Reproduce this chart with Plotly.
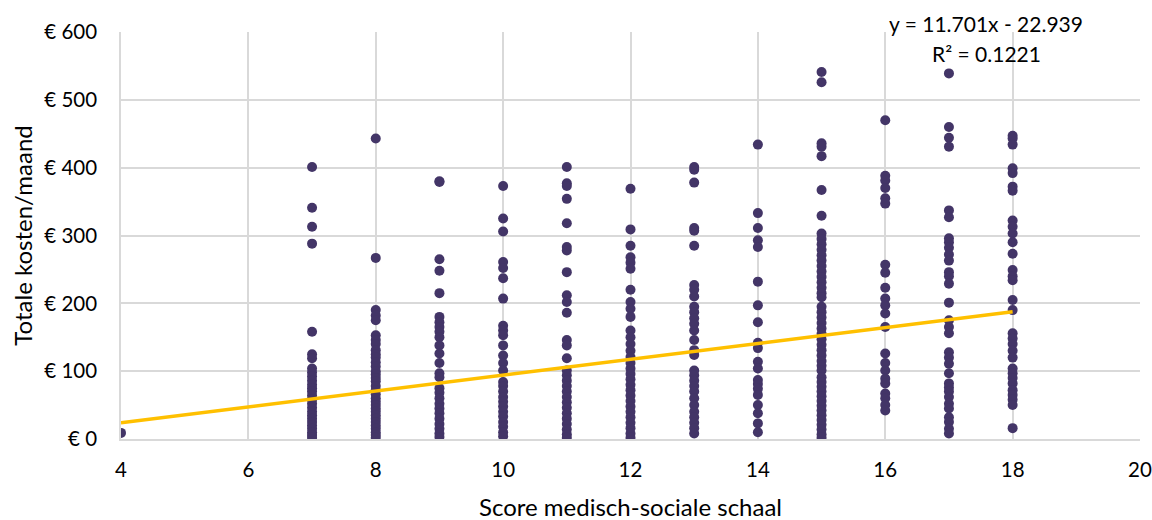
import plotly.graph_objects as go

# Monthly total costs (EUR) per score on the medical-social scale
score_4 = [9]
score_7 = [401, 341, 313, 288, 158, 125, 119, 104, 98, 92, 86, 80, 75, 70, 64, 58, 52, 46, 40,
           35, 30, 25, 20, 15, 10, 6, 2]
score_8 = [443, 267, 190, 182, 175, 153, 146, 140, 131, 125, 120, 113, 107, 100, 95, 90, 85, 78,
           72, 66, 60, 55, 50, 45, 40, 35, 30, 25, 20, 15, 10, 6, 2]
score_9 = [380, 379, 265, 248, 215, 180, 172, 165, 158, 150, 138, 126, 112, 97, 91, 75, 68, 60,
           52, 45, 38, 30, 22, 15, 8, 3]
score_10 = [373, 325, 306, 261, 252, 237, 207, 167, 160, 153, 138, 123, 112, 101, 84, 78, 70, 62,
            55, 48, 40, 33, 25, 18, 10, 4]
score_11 = [401, 377, 373, 354, 318, 283, 278, 246, 212, 202, 186, 146, 138, 119, 101, 94, 86, 78,
            70, 62, 54, 46, 38, 30, 22, 14, 7, 2]
score_12 = [369, 309, 285, 268, 260, 251, 220, 202, 192, 180, 160, 150, 140, 130, 121, 112, 104,
            96, 88, 80, 72, 64, 56, 48, 40, 32, 24, 16, 8, 2]
score_13 = [401, 397, 378, 311, 307, 285, 227, 220, 210, 195, 187, 178, 170, 160, 146, 131, 124,
            101, 94, 86, 78, 70, 60, 50, 40, 32, 24, 16, 8]
score_14 = [434, 333, 311, 293, 283, 232, 197, 172, 142, 134, 114, 104, 87, 81, 74, 65, 50, 38,
            23, 10]
score_15 = [541, 526, 436, 431, 417, 367, 329, 303, 295, 287, 279, 271, 263, 255, 247, 239, 231,
            223, 215, 209, 195, 187, 179, 171, 163, 155, 147, 139, 131, 123, 115, 108, 101, 91,
            84, 77, 70, 63, 56, 49, 42, 35, 28, 21, 14, 7, 2]
score_16 = [470, 388, 381, 370, 355, 347, 257, 245, 223, 207, 197, 185, 165, 126, 112, 101, 89,
            82, 67, 60, 50, 42]
score_17 = [539, 460, 444, 431, 337, 327, 296, 290, 282, 272, 263, 246, 240, 229, 201, 175, 165,
            156, 128, 120, 111, 97, 82, 76, 70, 62, 52, 45, 32, 25, 15, 8]
score_18 = [447, 443, 434, 399, 392, 372, 366, 322, 313, 303, 290, 273, 249, 240, 234, 205, 190,
            156, 148, 140, 130, 120, 104, 97, 90, 82, 72, 65, 58, 50, 16]

scores = [4, 7, 8, 9, 10, 11, 12, 13, 14, 15, 16, 17, 18]
costs = [score_4, score_7, score_8, score_9, score_10, score_11, score_12, score_13,
         score_14, score_15, score_16, score_17, score_18]

# Linear trendline
slope = 11.701
intercept = -22.939
r_squared = 0.1221

x_tick_values = [4, 6, 8, 10, 12, 14, 16, 18, 20]
y_tick_values = [0, 100, 200, 300, 400, 500, 600]
y_tick_labels = ["€ 0", "€ 100", "€ 200", "€ 300", "€ 400", "€ 500", "€ 600"]

xs, ys = [], []
for s, vals in zip(scores, costs):
    xs += [s] * len(vals)
    ys += vals

font_family = "Lato, 'Open Sans', sans-serif"

fig = go.Figure()
fig.add_trace(go.Scatter(
    x=xs, y=ys, mode="markers",
    marker=dict(size=10, color="#433567", line=dict(width=0)),
    hoverinfo="x+y", showlegend=False,
))

x_min, x_max = min(scores), max(scores)
fig.add_trace(go.Scatter(
    x=[x_min, x_max],
    y=[slope * x_min + intercept, slope * x_max + intercept],
    mode="lines", line=dict(color="#FFC000", width=3.5),
    hoverinfo="skip", showlegend=False,
))

# Trendline equation and R²
fig.add_annotation(
    text=f"y = {slope}x - {abs(intercept)}",
    xref="paper", yref="paper", x=0.849, y=1.022,
    xanchor="center", yanchor="middle", showarrow=False,
    font=dict(family=font_family, size=21, color="#000000"),
)
fig.add_annotation(
    text=f"R² = {r_squared}",
    xref="paper", yref="paper", x=0.849, y=0.948,
    xanchor="center", yanchor="middle", showarrow=False,
    font=dict(family=font_family, size=21, color="#000000"),
)

# Axis titles
fig.add_annotation(
    text="Score medisch-sociale schaal",
    xref="paper", yref="paper", x=0.5, y=-0.165,
    xanchor="center", yanchor="middle", showarrow=False,
    font=dict(family=font_family, size=24, color="#000000"),
)
fig.add_annotation(
    text="Totale kosten/maand",
    xref="paper", yref="paper", x=-0.097, y=0.5, textangle=-90,
    xanchor="center", yanchor="middle", showarrow=False,
    font=dict(family=font_family, size=24, color="#000000"),
)

fig.update_layout(
    width=1152, height=520,
    margin=dict(l=121, r=12, t=32, b=81),
    paper_bgcolor="#ffffff", plot_bgcolor="#ffffff",
    font=dict(family=font_family, color="#000000"),
    xaxis=dict(
        range=[4, 20], tickvals=x_tick_values, automargin=False,
        showgrid=True, gridcolor="#d9d9d9", gridwidth=1.5,
        showline=True, linecolor="#d9d9d9", linewidth=1.5,
        zeroline=False,
        ticks="outside", ticklen=12, tickcolor="rgba(0,0,0,0)",
        tickfont=dict(size=20.5, color="#000000"),
    ),
    yaxis=dict(
        range=[0, 600], tickvals=y_tick_values, ticktext=y_tick_labels, automargin=False,
        showgrid=True, gridcolor="#d9d9d9", gridwidth=1.5,
        showline=True, linecolor="#d9d9d9", linewidth=1.5,
        zeroline=False,
        ticks="outside", ticklen=18, tickcolor="rgba(0,0,0,0)",
        tickfont=dict(size=20.5, color="#000000"),
    ),
)

fig.write_html("out.html")
